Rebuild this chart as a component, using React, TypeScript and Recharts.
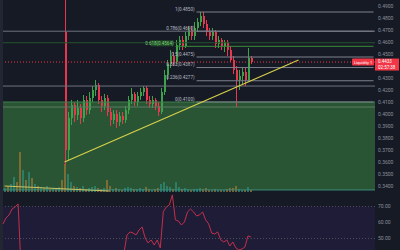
import React from "react";
import {
  ComposedChart,
  Bar,
  Line,
  XAxis,
  YAxis,
  ReferenceLine,
  ReferenceArea,
  Cell,
} from "recharts";

// candles start at slot 20, one slot = one bar on the x axis
const FIRST_CANDLE = 20;
const SLOTS = 124;

const opens = [
  0.4683, 0.37, 0.3967, 0.4075, 0.3992, 0.405, 0.3967, 0.4117, 0.4033, 0.4133,
  0.42, 0.4242, 0.4117, 0.4067, 0.4133, 0.4017, 0.395, 0.4, 0.3933, 0.3983,
  0.395, 0.4033, 0.4117, 0.4167, 0.41, 0.415, 0.4183, 0.4217, 0.4117, 0.4083,
  0.4117, 0.4067, 0.4017, 0.4183, 0.4325, 0.4417, 0.4483, 0.4433, 0.4575, 0.4617,
  0.4567, 0.465, 0.47, 0.465, 0.4717, 0.4767, 0.4817, 0.475, 0.4683, 0.465,
  0.4683, 0.4583, 0.4617, 0.4567, 0.46, 0.4533, 0.445, 0.4367, 0.4283, 0.4317,
  0.435, 0.4283, 0.4467,
];
const closes = [
  0.37, 0.3967, 0.4075, 0.3992, 0.405, 0.3967, 0.4117, 0.4033, 0.4133, 0.42,
  0.4242, 0.4117, 0.4067, 0.4133, 0.4017, 0.395, 0.4, 0.3933, 0.3983, 0.395,
  0.4033, 0.4117, 0.4167, 0.41, 0.415, 0.4183, 0.4217, 0.4117, 0.4083, 0.4117,
  0.4067, 0.4017, 0.4183, 0.4325, 0.4417, 0.4483, 0.4433, 0.4575, 0.4617, 0.4567,
  0.465, 0.47, 0.465, 0.4717, 0.4767, 0.4817, 0.475, 0.4683, 0.465, 0.4683,
  0.4583, 0.4617, 0.4567, 0.46, 0.4533, 0.445, 0.4367, 0.4283, 0.4317, 0.435,
  0.4283, 0.4467, 0.4433,
];
const highs = [
  0.51, 0.4017, 0.4117, 0.41, 0.4117, 0.4083, 0.4158, 0.415, 0.4183, 0.4233,
  0.4283, 0.4258, 0.415, 0.4167, 0.4158, 0.405, 0.4033, 0.4033, 0.4017, 0.4017,
  0.4067, 0.415, 0.4217, 0.4183, 0.4183, 0.4217, 0.4233, 0.4233, 0.415, 0.415,
  0.4133, 0.41, 0.4217, 0.4367, 0.445, 0.4533, 0.4517, 0.4617, 0.465, 0.465,
  0.4683, 0.4733, 0.4733, 0.4767, 0.48, 0.485, 0.485, 0.4783, 0.4717, 0.4717,
  0.47, 0.465, 0.4633, 0.4617, 0.4617, 0.4567, 0.4483, 0.44, 0.4367, 0.4383,
  0.4383, 0.455, 0.4483,
];
const lows = [
  0.3575, 0.3617, 0.3908, 0.3933, 0.395, 0.3917, 0.3933, 0.3992, 0.4, 0.41,
  0.415, 0.4083, 0.4017, 0.4033, 0.3983, 0.39, 0.3917, 0.3883, 0.39, 0.3917,
  0.3925, 0.4, 0.4083, 0.4067, 0.4067, 0.4117, 0.415, 0.4083, 0.405, 0.405,
  0.4033, 0.3983, 0.4, 0.4158, 0.4283, 0.4383, 0.44, 0.4417, 0.4533, 0.4533,
  0.455, 0.4617, 0.4617, 0.4617, 0.4683, 0.4733, 0.4717, 0.465, 0.4617, 0.4617,
  0.455, 0.455, 0.4533, 0.4517, 0.4483, 0.4433, 0.4333, 0.4058, 0.42, 0.425,
  0.4233, 0.4267, 0.4417,
];

const volumes = [
  4, 6, 8, 15, 10, 40, 22, 12, 20, 14, 8, 6, 5, 4, 6, 3, 4, 3, 5, 12,
  28, 18, 10, 6, 5, 4, 6, 3, 4, 5, 6, 4, 3, 4, 12, 6, 3, 4, 3, 2,
  4, 5, 4, 3, 3, 4, 3, 5, 3, 2, 3, 4, 8, 10, 6, 5, 3, 10, 5, 3,
  4, 3, 2, 3, 3, 4, 3, 4, 2, 2, 3, 2, 2, 2, 3, 4, 4, 6, 3, 2,
  2, 5, 2,
];
const volumeSides = [
  "u", "d", "u", "u", "d", "d", "u", "d", "u", "d", "u", "d", "u", "d", "u", "d", "u", "d", "u", "d",
  "d", "u", "u", "d", "u", "d", "u", "d", "u", "u", "u", "d", "d", "u", "d", "d", "u", "d", "u", "d",
  "u", "u", "u", "d", "u", "u", "u", "d", "d", "u", "d", "d", "u", "u", "u", "u", "d", "u", "u", "d",
  "u", "u", "d", "u", "u", "u", "d", "d", "d", "u", "d", "u", "d", "u", "d", "d", "d", "d", "u", "u",
  "d", "u", "d",
];

const rsiValues = [
  59.1, 62.8, 64.7, 68.4, 69.7, 71.6, 30, 32, 35, 33, 38, 36, 40, 37, 34, 31, 29,
  33, 36, 39, 41, 38, 35, 37, 40, 36, 33, 30, 34, 37, 39, 35, 32, 36, 38, 40, 37,
  34, 38, 41, 41, 52.2, 54.1, 53.4, 52.2, 55.3, 57.2, 50.3, 47.2, 49.1, 45.9, 49.1,
  44.1, 66.6, 69.7, 70.9, 77.2, 61.6, 60.9, 58.4, 60.3, 66.6, 68.4, 66.6, 64.1,
  64.7, 66.6, 61.6, 59.1, 53.4, 52.8, 54.1, 49.1, 47.8, 49.1, 45.3, 47.8, 44.1,
  42.8, 43.4, 44.7, 51.6, 50.9,
];

// 0.4400 sits under the live price tag, so it is left out like in the source
const priceTicks = [
  0.49, 0.48, 0.47, 0.46, 0.45, 0.43, 0.42, 0.41, 0.4, 0.39, 0.38, 0.37,
  0.36, 0.35, 0.34,
];
const rsiTicks = [70, 60, 50];

const fibRatios = ["1", "0.786", "0.618", "0.5", "0.382", "0.236", "0"];
const fibPrices = [0.485, 0.469, 0.4564, 0.4475, 0.4387, 0.4277, 0.41];

const lastPrice = 0.4433;
const zoneTop = 0.41;
const zoneBottom = 0.3367;

const UP = "#3da34a";
const DOWN = "#e8374e";
const TEXT = "#8b8f9b";

const rows = Array.from({ length: SLOTS }, (_, i) => {
  const c = i - FIRST_CANDLE;
  const hasCandle = c >= 0 && c < closes.length;
  return {
    slot: i,
    open: hasCandle ? opens[c] : null,
    close: hasCandle ? closes[c] : null,
    high: hasCandle ? highs[c] : null,
    low: hasCandle ? lows[c] : null,
    range: hasCandle ? [lows[c], highs[c]] : null,
    vol: i < volumes.length ? volumes[i] : null,
    side: i < volumeSides.length ? volumeSides[i] : "u",
    rsi: i < rsiValues.length ? rsiValues[i] : null,
  };
});

const Candle = (props: any) => {
  const { x, y, width, height, payload } = props;
  if (!payload || payload.open == null) return null;
  const { open, close, high, low } = payload;
  const top = Math.min(y, y + height);
  const h = Math.abs(height);
  const k = high === low ? 0 : h / (high - low);
  const cx = Math.floor(x + width / 2);
  const bodyTop = top + (high - Math.max(open, close)) * k;
  const bodyH = Math.max(1, Math.abs(open - close) * k);
  const color = close >= open ? UP : DOWN;
  return (
    <g>
      <rect x={cx} y={top} width={1} height={h} fill={color} />
      <rect x={cx} y={bodyTop} width={2} height={bodyH} fill={color} />
    </g>
  );
};

const fibLabel = (text: string, color: string, boxed: boolean) => (p: any) => {
  const vb = p.viewBox || {};
  return (
    <g>
      {boxed && (
        <rect x={vb.x - 25} y={vb.y - 6} width={23} height={6} fill="#1f4a26" />
      )}
      <text x={vb.x - 2} y={vb.y - 1.5} textAnchor="end" fontSize={4.5} fill={color}>
        {text}
      </text>
    </g>
  );
};

const priceTag = (p: any) => {
  const vb = p.viewBox || {};
  const right = vb.x + vb.width;
  return (
    <g>
      <rect x={right - 23} y={vb.y - 3.5} width={22} height={7} fill="#f23645" rx={1} />
      <text x={right - 12} y={vb.y + 1.6} textAnchor="middle" fontSize={4} fill="#fff">
        Liquidity 1
      </text>
      <rect x={right} y={vb.y - 3.5} width={24} height={12} fill="#f23645" />
      <text x={right + 3} y={vb.y + 1.3} fontSize={4.5} fill="#fff">
        {lastPrice.toFixed(4)}
      </text>
      <text x={right + 3} y={vb.y + 7} fontSize={4.5} fill="#fff">
        02:57:38
      </text>
    </g>
  );
};

export default function App() {
  const fibStart = 64;
  const fibEnd = SLOTS - 1;
  return (
    <div
      style={{
        position: "fixed",
        left: 0,
        top: 0,
        width: 400,
        height: 250,
        background: "#161a25",
        overflow: "hidden",
        fontFamily: "Roboto, sans-serif",
      }}
    >
      <div style={{ position: "absolute", left: 0, top: 0, width: 3, height: 250, background: "#222632" }} />
      <div style={{ position: "absolute", left: 0, top: 0 }}>
        <ComposedChart width={400} height={192} data={rows} margin={{ top: 0, right: 0, left: 3, bottom: 0 }}>
          <XAxis xAxisId="c" dataKey="slot" hide />
          <XAxis xAxisId="v" dataKey="slot" hide />
          <YAxis
            yAxisId="p"
            orientation="right"
            width={25}
            domain={[0.335, 0.495]}
            allowDataOverflow
            ticks={priceTicks}
            tickFormatter={(v: number) => v.toFixed(4)}
            tick={{ fill: TEXT, fontSize: 5 }}
            tickSize={0}
            tickMargin={3}
            axisLine={false}
            tickLine={false}
          />
          <YAxis yAxisId="vol" hide domain={[0, 192]} />
          <ReferenceArea
            xAxisId="c"
            yAxisId="p"
            y1={zoneBottom}
            y2={zoneTop}
            fill="#2a5535"
            fillOpacity={1}
            stroke="none"
          />
          <ReferenceLine xAxisId="c" yAxisId="p" y={zoneTop} stroke="#3f7f4d" strokeWidth={1} />
          <ReferenceLine xAxisId="c" yAxisId="p" y={0.4058} stroke="#5d7a63" strokeWidth={1} />
          <ReferenceLine xAxisId="c" yAxisId="p" y={zoneBottom} stroke="#3c8c7c" strokeWidth={1} />
          <ReferenceLine xAxisId="c" yAxisId="p" y={fibPrices[1]} stroke="#6f737e" strokeWidth={1} />
          <ReferenceLine xAxisId="c" yAxisId="p" y={0.4233} stroke="#6f737e" strokeWidth={1} />
          <ReferenceLine xAxisId="c" yAxisId="p" y={0.4594} stroke="#23542c" strokeWidth={1} />
          {fibRatios.map((r, i) => (
            <ReferenceLine
              key={r}
              xAxisId="c"
              yAxisId="p"
              segment={[
                { x: i === 2 ? 57 : fibStart, y: fibPrices[i] },
                { x: fibEnd, y: fibPrices[i] },
              ]}
              stroke={i === 2 ? "#3c8c3c" : "#7d818c"}
              strokeWidth={1}
              label={fibLabel(
                `${r}(${fibPrices[i].toFixed(4)})`,
                i === 2 ? "#7fd07f" : "#b7bac3",
                i === 2
              )}
            />
          ))}
          <Bar xAxisId="v" yAxisId="vol" dataKey="vol" barSize={2} isAnimationActive={false}>
            {rows.map((r) => (
              <Cell key={r.slot} fill={r.side === "u" ? "#2f8a78" : "#9a7434"} fillOpacity={0.75} />
            ))}
          </Bar>
          <ReferenceLine
            xAxisId="c"
            yAxisId="p"
            segment={[
              { x: 0, y: 0.34 },
              { x: 35, y: 0.3358 },
            ]}
            stroke="#c9c266"
            strokeWidth={1}
          />
          <Bar
            xAxisId="c"
            yAxisId="p"
            dataKey="range"
            barSize={2}
            shape={Candle}
            isAnimationActive={false}
          />
          <ReferenceLine
            xAxisId="c"
            yAxisId="p"
            segment={[
              { x: 20, y: 0.36 },
              { x: 98, y: 0.445 },
            ]}
            stroke="#d6d04a"
            strokeWidth={1.2}
          />
          <ReferenceLine
            xAxisId="c"
            yAxisId="p"
            y={lastPrice}
            stroke="#f23645"
            strokeDasharray="1 2"
            strokeWidth={1}
            label={priceTag}
          />
        </ComposedChart>
      </div>
      <div style={{ position: "absolute", left: 0, top: 193 }}>
        <ComposedChart width={400} height={57} data={rows} margin={{ top: 0, right: 0, left: 3, bottom: 0 }}>
          <XAxis dataKey="slot" hide />
          <YAxis
            orientation="right"
            width={25}
            domain={[42.8, 78.4]}
            allowDataOverflow
            ticks={rsiTicks}
            tickFormatter={(v: number) => v.toFixed(2)}
            tick={{ fill: TEXT, fontSize: 5 }}
            tickSize={0}
            tickMargin={3}
            axisLine={false}
            tickLine={false}
          />
          <ReferenceArea y1={42.8} y2={70} fill="#1f1c38" fillOpacity={1} stroke="none" ifOverflow="hidden" />
          <ReferenceLine y={70} stroke="#4b4e5c" strokeDasharray="1 2" />
          <ReferenceLine y={50} stroke="#4b4e5c" strokeDasharray="1 2" />
          <Line
            dataKey="rsi"
            stroke="#c2304a"
            strokeWidth={1}
            dot={false}
            isAnimationActive={false}
            connectNulls={false}
          />
        </ComposedChart>
      </div>
    </div>
  );
}
